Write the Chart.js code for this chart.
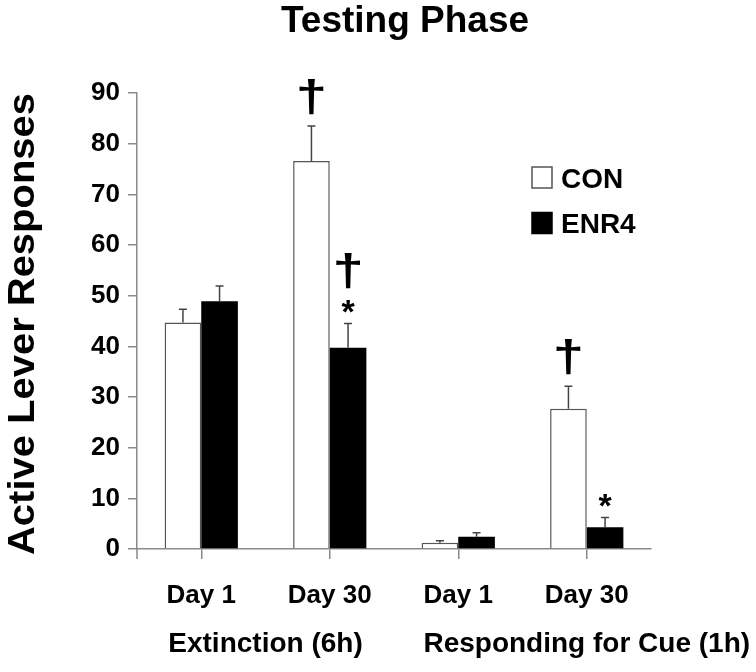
<!DOCTYPE html>
<html>
<head>
    <title>Testing Phase</title>
    <script src="https://cdn.jsdelivr.net/npm/chart.js"></script>
    <style>
        html, body {
            margin: 0;
            padding: 0;
            background: #ffffff;
        }

        #chartBox {
            width: 756px;
            height: 672px;
        }
    </style>
</head>
<body>
    <div id="chartBox">
        <canvas id="testingChart"></canvas>
    </div>
    <script>
        // values
        const dayLabels = ['Day 1', 'Day 30', 'Day 1', 'Day 30'];
        const phaseLabels = ['Extinction (6h)', 'Responding for Cue (1h)'];
        const conValues = [44.7, 76.6, 1.25, 27.7];
        const enrValues = [48.9, 39.7, 2.4, 4.3];
        const conErrors = [2.6, 6.9, 0.4, 4.4];
        const enrErrors = [3.0, 4.8, 0.8, 1.9];
        const conMarks = ['', '†', '', '†'];
        const enrMarks = ['', '†*', '', '*'];
        const yTicks = [0, 10, 20, 30, 40, 50, 60, 70, 80, 90];

        const fontFamily = "'Liberation Sans', Arial, Helvetica, sans-serif";
        const axisGray = '#8a8a8a';

        // error bars (upper half only) and the significance marks
        const errorBarPlugin = {
            id: 'errorBars',
            afterDatasetsDraw(chart) {
                const ctx = chart.ctx;
                const yScale = chart.scales.y;
                const errs = [conErrors, enrErrors];
                const marks = [conMarks, enrMarks];

                ctx.save();
                for (let d = 0; d < 2; d++) {
                    const meta = chart.getDatasetMeta(d);
                    const values = chart.data.datasets[d].data;
                    meta.data.forEach((bar, i) => {
                        const topY = yScale.getPixelForValue(values[i]);
                        const errY = yScale.getPixelForValue(values[i] + errs[d][i]);
                        ctx.strokeStyle = '#444';
                        ctx.lineWidth = 1.5;
                        ctx.beginPath();
                        ctx.moveTo(bar.x, topY);
                        ctx.lineTo(bar.x, errY);
                        ctx.moveTo(bar.x - 4, errY);
                        ctx.lineTo(bar.x + 4, errY);
                        ctx.stroke();

                        // marks stack upward from the error bar
                        let y = errY - 11;
                        const chars = marks[d][i].split('').reverse();
                        for (const ch of chars) {
                            const isDagger = ch === '†';
                            const sx = isDagger ? 1.25 : 1;
                            ctx.save();
                            ctx.fillStyle = '#000';
                            ctx.font = 'bold ' + (isDagger ? 45 : 34) + 'px ' + fontFamily;
                            ctx.textAlign = 'center';
                            ctx.textBaseline = 'alphabetic';
                            const m = ctx.measureText(ch);
                            const h = m.actualBoundingBoxAscent + m.actualBoundingBoxDescent;
                            ctx.translate(bar.x, y - m.actualBoundingBoxDescent);
                            ctx.scale(sx, 1);
                            ctx.fillText(ch, 0, 0);
                            ctx.restore();
                            y -= h + 11;
                        }
                    });
                }
                ctx.restore();
            }
        };

        // titles, phase names under the day labels, and the legend
        const extrasPlugin = {
            id: 'extras',
            afterDraw(chart) {
                const ctx = chart.ctx;
                const xScale = chart.scales.x;
                const yScale = chart.scales.y;
                ctx.save();

                // y axis runs a little below the baseline in the figure
                ctx.strokeStyle = axisGray;
                ctx.lineWidth = 1.5;
                ctx.beginPath();
                ctx.moveTo(chart.chartArea.left, yScale.getPixelForValue(0));
                ctx.lineTo(chart.chartArea.left, yScale.getPixelForValue(0) + 10);
                ctx.stroke();

                ctx.fillStyle = '#000';
                ctx.font = 'bold 37px ' + fontFamily;
                ctx.textAlign = 'center';
                ctx.textBaseline = 'alphabetic';
                ctx.fillText('Testing Phase', 405, 32);

                // y axis title, a little wider than plain Arial as in the figure
                ctx.save();
                ctx.translate(34, 324);
                ctx.rotate(-Math.PI / 2);
                ctx.scale(1.08, 1);
                ctx.font = 'bold 37px ' + fontFamily;
                ctx.fillText('Active Lever Responses', 0, 0);
                ctx.restore();

                ctx.font = 'bold 28px ' + fontFamily;
                ctx.textBaseline = 'middle';
                const extX = (xScale.getPixelForValue(0) + xScale.getPixelForValue(1)) / 2;
                ctx.fillText(phaseLabels[0], extX, 644);
                ctx.fillText(phaseLabels[1], xScale.getPixelForValue(3), 644);

                // legend
                chart.data.datasets.forEach((ds, i) => {
                    const y = 167 + i * 45.5;
                    ctx.fillStyle = ds.backgroundColor;
                    ctx.fillRect(532, y, 20, 21);
                    ctx.strokeStyle = i === 0 ? '#555' : '#000';
                    ctx.lineWidth = 1.5;
                    ctx.strokeRect(532, y, 20, 21);
                    ctx.fillStyle = '#000';
                    ctx.font = 'bold 28px ' + fontFamily;
                    ctx.textAlign = 'left';
                    ctx.textBaseline = 'alphabetic';
                    ctx.fillText(ds.label, 561, y + 20.5);
                });
                ctx.restore();
            }
        };

        const ctx = document.getElementById('testingChart').getContext('2d');
        const chart = new Chart(ctx, {
            type: 'bar',
            data: {
                labels: dayLabels,
                datasets: [
                    {
                        label: 'CON',
                        data: conValues,
                        backgroundColor: '#ffffff',
                        borderColor: '#555',
                        borderWidth: 1.5,
                    },
                    {
                        label: 'ENR4',
                        data: enrValues,
                        backgroundColor: '#000000',
                        borderColor: '#000000',
                        borderWidth: 0,
                    },
                ],
            },
            options: {
                responsive: true,
                maintainAspectRatio: false,
                animation: false,
                layout: {
                    padding: { left: 0, right: 105, top: 93, bottom: 0 },
                },
                datasets: {
                    bar: {
                        barPercentage: 1,
                        categoryPercentage: 0.57,
                    },
                },
                plugins: {
                    legend: { display: false },
                    tooltip: { enabled: false },
                    title: { display: false },
                },
                scales: {
                    x: {
                        grid: {
                            drawOnChartArea: false,
                            drawTicks: true,
                            tickLength: 10,
                            offset: false,
                            color: axisGray,
                            lineWidth: 1.5,
                        },
                        border: { color: axisGray, width: 1.5 },
                        ticks: {
                            color: '#000',
                            padding: 21,
                            maxRotation: 0,
                            font: { family: fontFamily, size: 26, weight: 'bold' },
                        },
                        afterFit(scale) {
                            scale.height = 123;
                        },
                    },
                    y: {
                        min: 0,
                        max: 90,
                        afterBuildTicks(scale) {
                            scale.ticks = yTicks.map(v => ({ value: v }));
                        },
                        grid: {
                            drawOnChartArea: false,
                            drawTicks: true,
                            tickLength: 9,
                            color: axisGray,
                            lineWidth: 1.5,
                        },
                        border: { color: axisGray, width: 1.5 },
                        ticks: {
                            color: '#000',
                            padding: 8,
                            font: { family: fontFamily, size: 26, weight: 'bold' },
                        },
                        afterFit(scale) {
                            scale.width = 137;
                        },
                    },
                },
            },
            plugins: [errorBarPlugin, extrasPlugin],
        });
    </script>
</body>
</html>
